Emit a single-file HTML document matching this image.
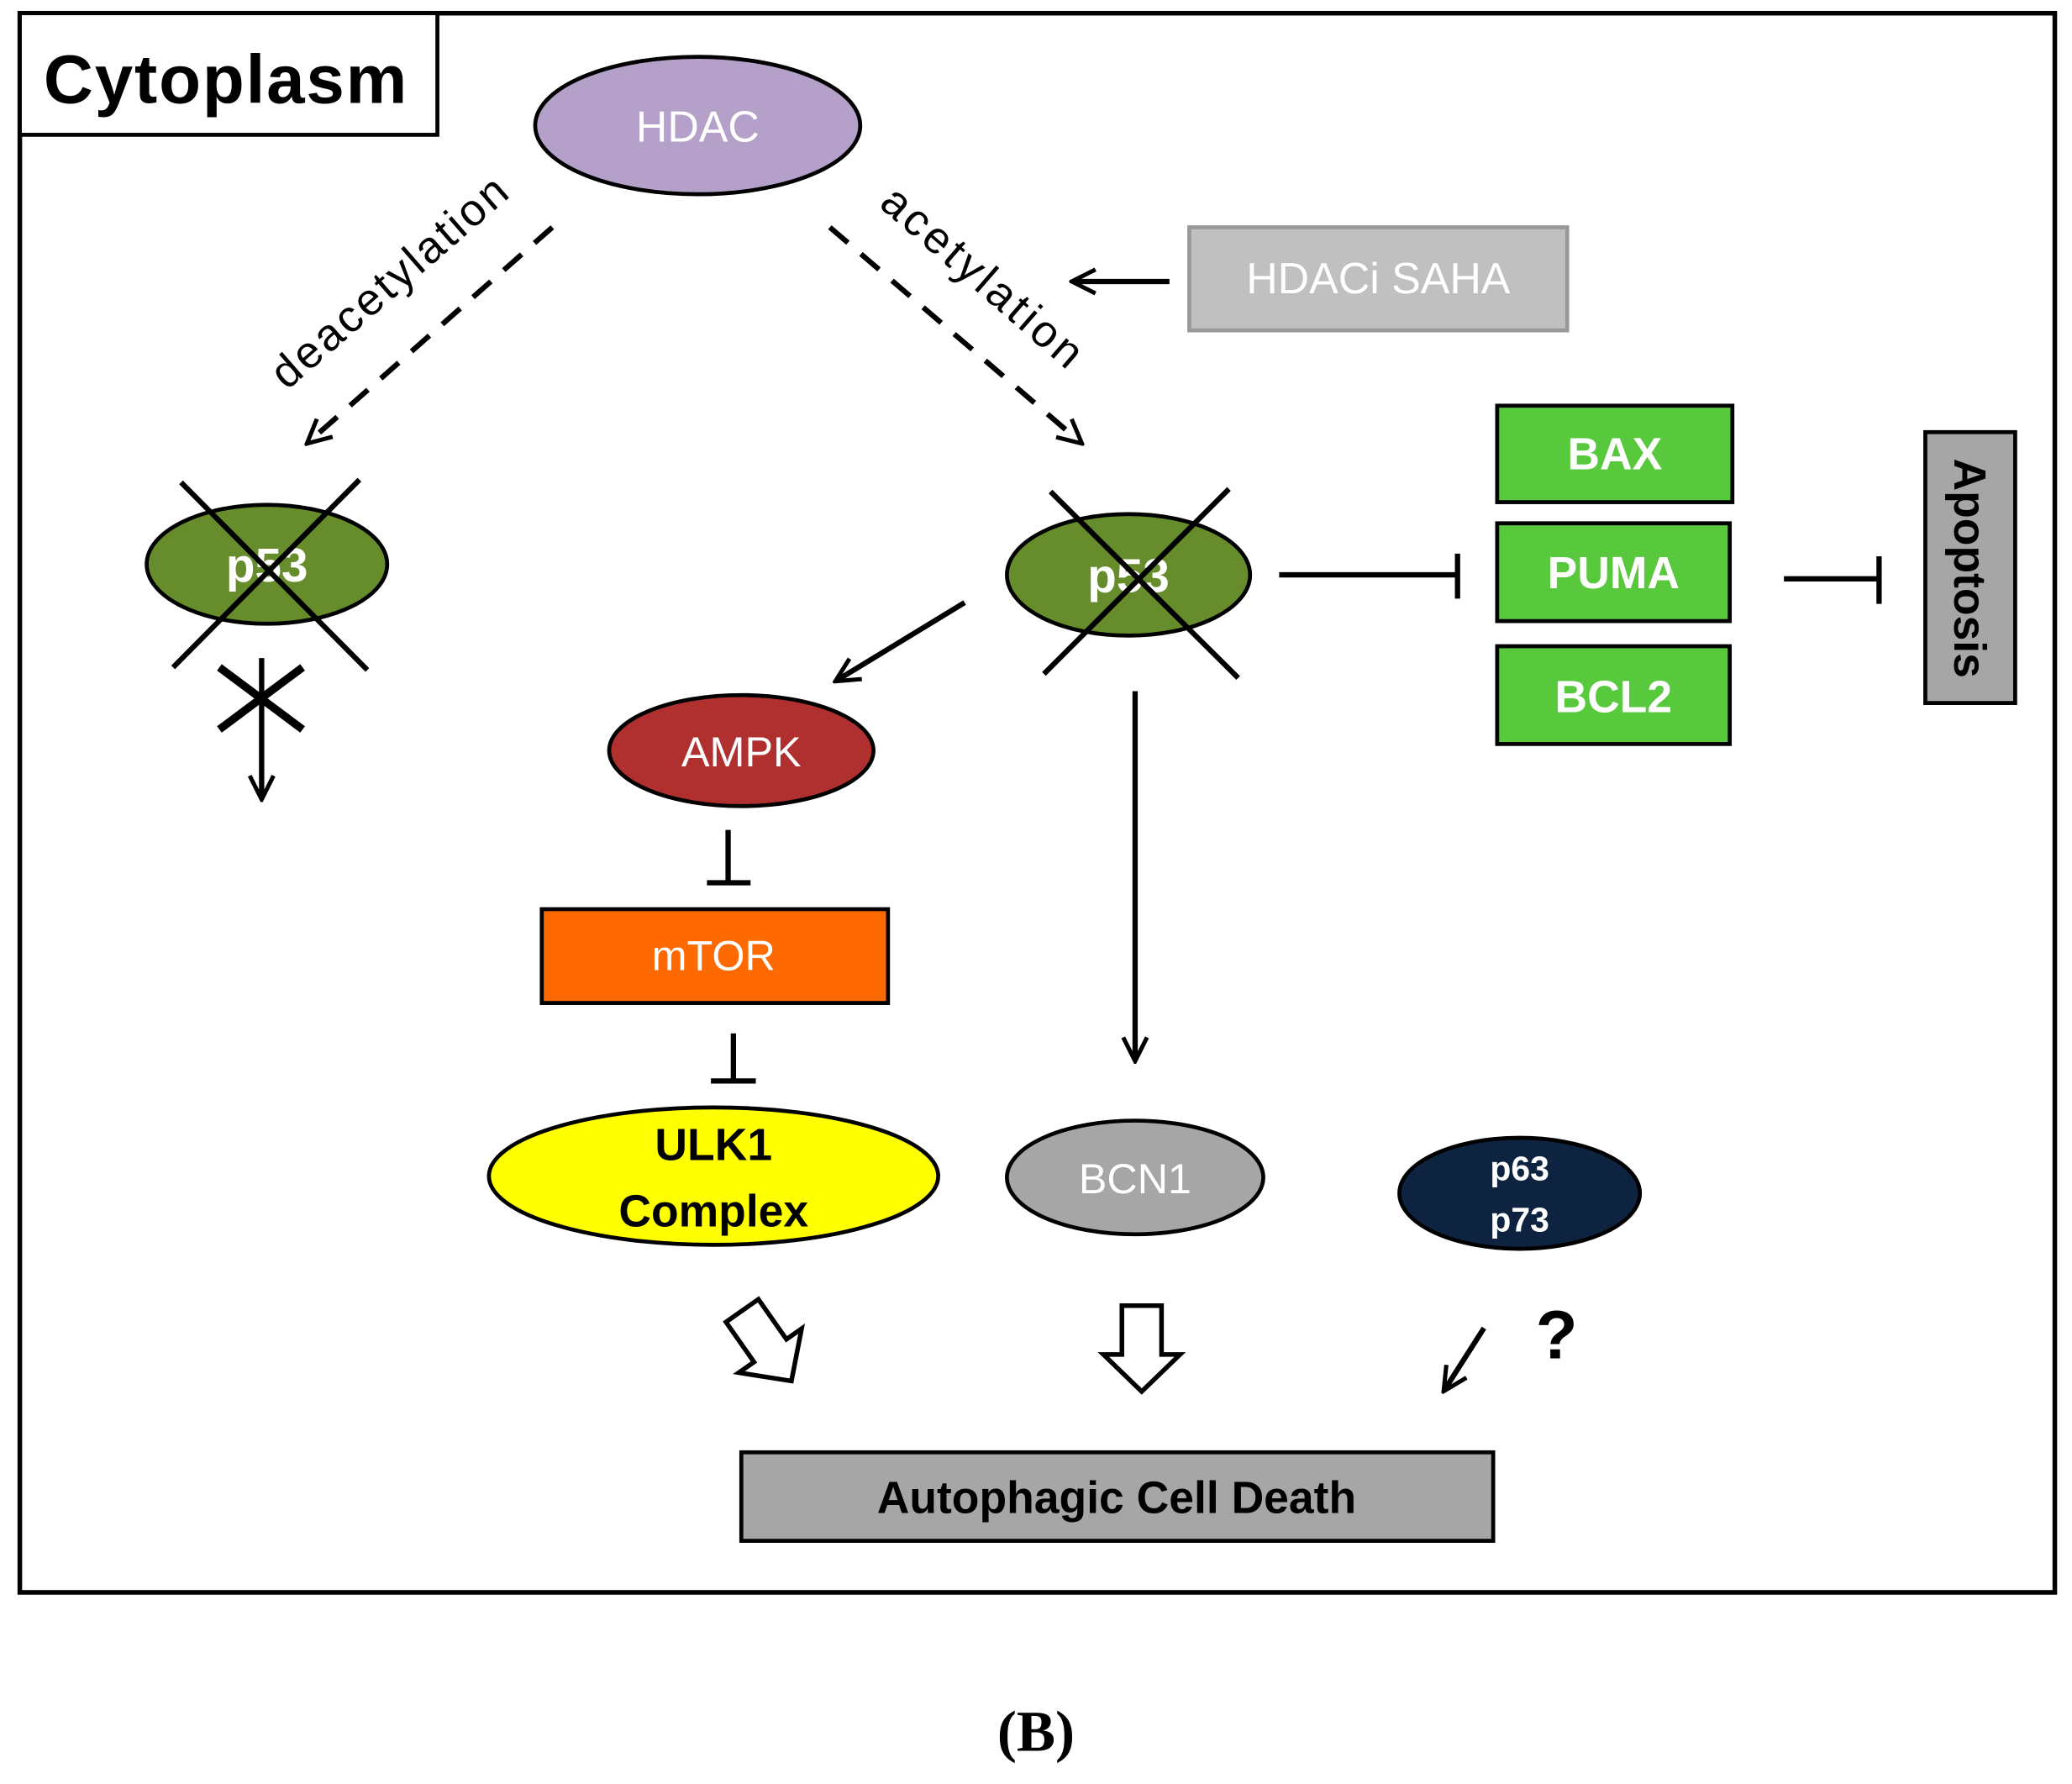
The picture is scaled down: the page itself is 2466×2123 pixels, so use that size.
<!DOCTYPE html>
<html><head><meta charset="utf-8"><style>
html,body{margin:0;padding:0;background:#fff;}
svg{display:block;}
text{font-family:"Liberation Sans",sans-serif;}
</style></head><body>
<svg width="2466" height="2123" viewBox="0 0 1568 1350" preserveAspectRatio="none" xmlns="http://www.w3.org/2000/svg">
<defs>
<marker id="ah2" markerWidth="22" markerHeight="22" refX="19" refY="11" orient="auto" markerUnits="userSpaceOnUse">
<path d="M2,2 L20,11 L2,20" fill="none" stroke="#000" stroke-width="3.2"/>
</marker>
</defs>
<rect x="15" y="10" width="1540" height="1195" fill="#fff" stroke="#000" stroke-width="3.5"/>
<rect x="15" y="10" width="316" height="92" fill="#fff" stroke="#000" stroke-width="3"/>
<text x="33" y="78" font-size="52" font-weight="bold" textLength="275">Cytoplasm</text>

<ellipse cx="528" cy="95" rx="123" ry="52" fill="#b4a0c9" stroke="#000" stroke-width="3"/>
<text x="528" y="107" font-size="33" fill="#fff" text-anchor="middle">HDAC</text>

<line x1="418" y1="172" x2="233" y2="335" stroke="#000" stroke-width="4" stroke-dasharray="18,13" marker-end="url(#ah2)"/>
<text transform="translate(302,222) rotate(-41)" font-size="34" text-anchor="middle" textLength="225">deacetylation</text>
<line x1="628" y1="172" x2="818" y2="335" stroke="#000" stroke-width="4" stroke-dasharray="18,13" marker-end="url(#ah2)"/>
<text transform="translate(736,218) rotate(41)" font-size="34" text-anchor="middle" textLength="190">acetylation</text>

<rect x="900" y="172" width="286" height="78" fill="#c0c0c0" stroke="#999" stroke-width="3"/>
<text x="1043" y="222" font-size="33" fill="#fff" text-anchor="middle">HDACi SAHA</text>
<line x1="885" y1="213" x2="812" y2="213" stroke="#000" stroke-width="4" marker-end="url(#ah2)"/>

<ellipse cx="202" cy="427" rx="91" ry="45" fill="#668c2c" stroke="#000" stroke-width="3"/>
<text x="202" y="440" font-size="36" font-weight="bold" fill="#fff" text-anchor="middle">p53</text>
<line x1="137" y1="365" x2="278" y2="507" stroke="#000" stroke-width="4"/>
<line x1="272" y1="363" x2="131" y2="505" stroke="#000" stroke-width="4"/>
<line x1="198" y1="498" x2="198" y2="604" stroke="#000" stroke-width="4" marker-end="url(#ah2)"/>
<line x1="166" y1="505" x2="229" y2="552" stroke="#000" stroke-width="6"/>
<line x1="166" y1="552" x2="229" y2="505" stroke="#000" stroke-width="6"/>

<ellipse cx="854" cy="435" rx="92" ry="46" fill="#668c2c" stroke="#000" stroke-width="3"/>
<text x="854" y="448" font-size="36" font-weight="bold" fill="#fff" text-anchor="middle">p53</text>
<line x1="795" y1="372" x2="937" y2="513" stroke="#000" stroke-width="4"/>
<line x1="930" y1="370" x2="790" y2="510" stroke="#000" stroke-width="4"/>

<line x1="730" y1="456" x2="633" y2="515" stroke="#000" stroke-width="4" marker-end="url(#ah2)"/>
<line x1="968" y1="435" x2="1103" y2="435" stroke="#000" stroke-width="4"/>
<line x1="1103" y1="419" x2="1103" y2="453" stroke="#000" stroke-width="4"/>

<rect x="1133" y="307" width="178" height="73" fill="#58c83c" stroke="#000" stroke-width="3"/>
<text x="1222" y="355" font-size="34" font-weight="bold" fill="#fff" text-anchor="middle">BAX</text>
<rect x="1133" y="396" width="176" height="74" fill="#58c83c" stroke="#000" stroke-width="3"/>
<text x="1221" y="445" font-size="34" font-weight="bold" fill="#fff" text-anchor="middle">PUMA</text>
<rect x="1133" y="489" width="176" height="74" fill="#58c83c" stroke="#000" stroke-width="3"/>
<text x="1221" y="539" font-size="34" font-weight="bold" fill="#fff" text-anchor="middle">BCL2</text>

<line x1="1350" y1="438" x2="1422" y2="438" stroke="#000" stroke-width="4"/>
<line x1="1422" y1="421" x2="1422" y2="457" stroke="#000" stroke-width="4"/>
<rect x="1457" y="327" width="68" height="205" fill="#a6a6a6" stroke="#000" stroke-width="3"/>
<text transform="translate(1479,430) rotate(90)" font-size="34" font-weight="bold" text-anchor="middle">Apoptosis</text>

<ellipse cx="561" cy="568" rx="100" ry="42" fill="#b03030" stroke="#000" stroke-width="3"/>
<text x="561" y="580" font-size="32" fill="#fff" text-anchor="middle">AMPK</text>
<line x1="551" y1="628" x2="551" y2="668" stroke="#000" stroke-width="4"/>
<line x1="535" y1="668" x2="568" y2="668" stroke="#000" stroke-width="4"/>

<rect x="410" y="688" width="262" height="71" fill="#ff6a00" stroke="#000" stroke-width="3"/>
<text x="540" y="734" font-size="32" fill="#fff" text-anchor="middle">mTOR</text>
<line x1="555" y1="782" x2="555" y2="818" stroke="#000" stroke-width="4"/>
<line x1="538" y1="818" x2="572" y2="818" stroke="#000" stroke-width="4"/>

<ellipse cx="540" cy="890" rx="170" ry="52" fill="#ffff00" stroke="#000" stroke-width="3"/>
<text x="540" y="878" font-size="34" font-weight="bold" text-anchor="middle">ULK1</text>
<text x="540" y="928" font-size="34" font-weight="bold" text-anchor="middle">Complex</text>

<line x1="859" y1="523" x2="859" y2="802" stroke="#000" stroke-width="4" marker-end="url(#ah2)"/>
<ellipse cx="859" cy="891" rx="97" ry="43" fill="#a6a6a6" stroke="#000" stroke-width="3"/>
<text x="859" y="903" font-size="32" fill="#fff" text-anchor="middle">BCN1</text>

<ellipse cx="1150" cy="903" rx="91" ry="42" fill="#0d2340" stroke="#000" stroke-width="3"/>
<text x="1150" y="893" font-size="26" font-weight="bold" fill="#fff" text-anchor="middle">p63</text>
<text x="1150" y="932" font-size="26" font-weight="bold" fill="#fff" text-anchor="middle">p73</text>

<path d="M849,988 L879,988 L879,1025 L893,1025 L864,1053 L835,1025 L849,1025 Z" fill="#fff" stroke="#000" stroke-width="3.5"/>
<g transform="translate(580,1018) rotate(-35) translate(-864,-1020)">
<path d="M849,988 L879,988 L879,1025 L893,1025 L864,1053 L835,1025 L849,1025 Z" fill="#fff" stroke="#000" stroke-width="3.5"/>
</g>
<line x1="1123" y1="1005" x2="1093" y2="1052" stroke="#000" stroke-width="4" marker-end="url(#ah2)"/>
<text x="1178" y="1028" font-size="52" font-weight="bold" text-anchor="middle">?</text>

<rect x="561" y="1099" width="569" height="67" fill="#a6a6a6" stroke="#000" stroke-width="3"/>
<text x="845" y="1145" font-size="34" font-weight="bold" text-anchor="middle">Autophagic Cell Death</text>

<text x="784" y="1325" font-size="44" font-weight="bold" text-anchor="middle" style="font-family:'Liberation Serif',serif">(B)</text>
</svg>
</body></html>
